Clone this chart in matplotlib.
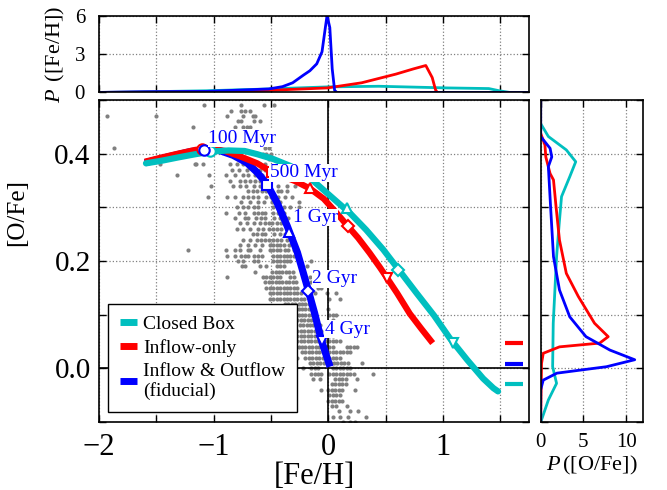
import numpy as np
import matplotlib
matplotlib.use('Agg')
import matplotlib.pyplot as plt
from matplotlib.lines import Line2D

plt.rcParams['font.family'] = ['Liberation Serif', 'DejaVu Serif']
plt.rcParams['mathtext.fontset'] = 'custom'
plt.rcParams['mathtext.rm'] = 'Liberation Serif'
plt.rcParams['mathtext.it'] = 'Liberation Serif:italic'

# ---- model tracks in [Fe/H]-[O/Fe] ----
cb_feh = [-1.59, -1.45, -1.31, -1.16, -1.02, -0.87, -0.73, -0.62, -0.48, -0.33, -0.19, -0.13, 0.04, 0.19,
          0.33, 0.48, 0.62, 0.77, 0.92, 1.06, 1.21, 1.35, 1.44, 1.48]
cb_ofe = [0.382, 0.387, 0.393, 0.399, 0.404, 0.406, 0.405, 0.399, 0.390, 0.377, 0.360, 0.349, 0.317, 0.289,
          0.258, 0.221, 0.182, 0.140, 0.099, 0.056, 0.016, -0.019, -0.037, -0.043]

io_feh = [-1.60, -1.45, -1.31, -1.16, -1.05, -0.90, -0.77, -0.62, -0.51, -0.40, -0.29, -0.16, -0.04, 0.07,
          0.17, 0.26, 0.36, 0.45, 0.51, 0.60, 0.71, 0.81, 0.91]
io_ofe = [0.385, 0.393, 0.400, 0.407, 0.410, 0.405, 0.395, 0.382, 0.368, 0.358, 0.349, 0.335, 0.316, 0.290,
          0.265, 0.243, 0.215, 0.188, 0.169, 0.140, 0.102, 0.074, 0.047]

fid_feh = [-1.60, -1.40, -1.20, -1.08, -0.95, -0.83, -0.71, -0.625, -0.54, -0.45, -0.36, -0.27, -0.19,
           -0.12, -0.06, 0.015]
fid_ofe = [0.383, 0.394, 0.404, 0.407, 0.406, 0.397, 0.383, 0.366, 0.345, 0.310, 0.266, 0.216, 0.157,
           0.103, 0.052, 0.003]

# time stamps: 100 Myr, 500 Myr, 1 Gyr, 2 Gyr, 4 Gyr
stamp_markers = ['o', 's', '^', 'D', 'v']
cb_stamp_feh = [-1.03, -0.22, 0.16, 0.61, 1.09]
cb_stamp_ofe = [0.405, 0.363, 0.298, 0.184, 0.048]
io_stamp_feh = [-1.10, -0.49, -0.16, 0.174, 0.509]
io_stamp_ofe = [0.409, 0.365, 0.336, 0.265, 0.169]
fid_stamp_feh = [-1.084, -0.538, -0.343, -0.175, -0.058]
fid_stamp_ofe = [0.407, 0.342, 0.2535, 0.145, 0.051]
stamp_labels = ['100 Myr', '500 Myr', '1 Gyr', '2 Gyr', '4 Gyr']
stamp_text_x = [-1.05, -0.51, -0.31, -0.14, -0.03]
stamp_text_y = [0.429, 0.364, 0.281, 0.167, 0.073]

# late-time [O/Fe] ticks on the right edge (red, blue, cyan)
eq_ofe = [0.047, 0.008, -0.029]

# ---- metallicity distributions ----
cb_mdf_x = [-2.0, -1.96, -1.57, -1.06, -0.52, -0.01, 0.44, 1.04, 1.40, 1.49, 1.58, 1.75]
cb_mdf_y = [0.0, 0.0, 0.05, 0.13, 0.27, 0.43, 0.48, 0.35, 0.30, 0.13, 0.0, 0.0]
io_mdf_x = [-2.0, -1.5, -1.06, -0.52, -0.01, 0.29, 0.59, 0.74, 0.85, 0.906, 0.935, 0.95, 1.75]
io_mdf_y = [0.0, 0.02, 0.05, 0.16, 0.35, 0.75, 1.43, 1.83, 2.10, 1.16, 0.20, 0.0, 0.0]
fid_mdf_x = [-2.0, -1.6, -1.06, -0.52, -0.40, -0.311, -0.217, -0.161, -0.101, -0.055, -0.026, -0.011,
             0.013, 0.034, 0.055, 0.074, 1.75]
fid_mdf_y = [0.0, 0.05, 0.08, 0.27, 0.45, 0.75, 1.35, 1.69, 2.23, 3.17, 5.06, 6.0,
             5.06, 1.83, 0.16, 0.0, 0.0]

# ---- [O/Fe] distributions ----
cb_odf_y = [0.50, 0.456, 0.432, 0.407, 0.385, 0.357, 0.320, 0.270, 0.208, 0.084, 0.003, -0.028, -0.059, -0.096, -0.10]
cb_odf_p = [0.0, 0.0, 0.9, 3.0, 4.1, 3.4, 2.44, 2.17, 1.86, 1.47, 1.40, 1.86, 0.9, 0.1, 0.0]
io_odf_y = [0.50, 0.438, 0.416, 0.394, 0.363, 0.351, 0.301, 0.239, 0.177, 0.134, 0.084, 0.059, 0.047, 0.040,
            0.028, 0.009, -0.10]
io_odf_p = [0.0, 0.0, 0.5, 0.6, 1.1, 1.5, 1.8, 2.2, 3.0, 4.4, 6.3, 7.9, 6.9, 2.2, 0.3, 0.1, 0.0]
fid_odf_y = [0.50, 0.432, 0.410, 0.394, 0.376, 0.301, 0.208, 0.146, 0.096, 0.059, 0.034, 0.016, 0.003, -0.009,
             -0.022, -0.040, -0.10]
fid_odf_p = [0.0, 0.0, 1.1, 1.3, 0.9, 1.16, 1.5, 2.2, 3.4, 5.3, 8.1, 11.0, 7.7, 1.9, 0.3, 0.0, 0.0]

# ---- observed stars, one row per [O/Fe] value ----
obs_rows = [
    (0.49, [-1.08, -0.76, -0.56, -0.47]),
    (0.48, [-0.85, -0.76, -0.73, -0.68]),
    (0.47, [-1.93, -1.50, -0.88, -0.74, -0.66, -0.64]),
    (0.46, [-0.79, -0.76, -0.65, -0.60]),
    (0.45, [-1.18, -0.81, -0.74, -0.71, -0.68]),
    (0.44, [-0.67, -0.65, -0.59]),
    (0.43, [-0.62, -0.60, -0.58]),
    (0.42, [-0.64, -0.58, -0.55]),
    (0.41, [-1.87, -0.55, -0.52]),
    (0.40, [-0.57, -0.54, -0.50]),
    (0.39, [-0.52, -0.49]),
    (0.38, [-1.47, -1.16, -1.15, -1.09, -0.86, -0.80, -0.74, -0.60, -0.55]),
    (0.37, [-0.84, -0.78, -0.71, -0.60, -0.55, -0.52]),
    (0.36, [-1.32, -1.04, -0.89, -0.81, -0.74, -0.70, -0.64, -0.58, -0.23]),
    (0.35, [-0.86, -0.77, -0.73, -0.68, -0.64, -0.60, -0.56]),
    (0.34, [-1.02, -0.83, -0.77, -0.72, -0.65, -0.60, -0.44, -0.36, -0.29]),
    (0.33, [-0.70, -0.66, -0.62, -0.58, -0.54, -0.44, -0.41, -0.36]),
    (0.32, [-1.05, -0.88, -0.81, -0.74, -0.70, -0.66, -0.61, -0.54, -0.50, -0.44, -0.38, -0.32]),
    (0.31, [-0.76, -0.68, -0.61, -0.56, -0.49, -0.47, -0.42, -0.26]),
    (0.30, [-0.80, -0.74, -0.70, -0.65, -0.61, -0.48, -0.44, -0.39, -0.33, -0.26]),
    (0.29, [-0.89, -0.78, -0.73, -0.65, -0.61, -0.58, -0.55, -0.48, -0.44, -0.39]),
    (0.28, [-0.81, -0.73, -0.70, -0.63, -0.59, -0.55, -0.47, -0.42, -0.39, -0.35]),
    (0.27, [-0.77, -0.71, -0.65, -0.60, -0.55, -0.52, -0.49, -0.45, -0.41, -0.38]),
    (0.26, [-0.80, -0.74, -0.68, -0.61, -0.57, -0.52, -0.48, -0.45, -0.41]),
    (0.25, [-0.66, -0.62, -0.58, -0.55, -0.47, -0.42, -0.38]),
    (0.24, [-0.74, -0.68, -0.62, -0.59, -0.55, -0.52, -0.48, -0.45, -0.41, -0.36]),
    (0.23, [-0.77, -0.70, -0.64, -0.58, -0.51, -0.48, -0.45, -0.42, -0.39, -0.34]),
    (0.22, [-1.22, -0.89, -0.81, -0.77, -0.70, -0.68, -0.60, -0.51, -0.48, -0.45, -0.42, -0.38, -0.35, -0.30]),
    (0.21, [-0.88, -0.81, -0.76, -0.73, -0.70, -0.65, -0.61, -0.58, -0.48, -0.45, -0.42, -0.39, -0.36, -0.33, -0.30]),
    (0.20, [-0.79, -0.74, -0.65, -0.61, -0.48, -0.45, -0.42, -0.39, -0.36, -0.33, -0.15]),
    (0.19, [-0.75, -0.73, -0.60, -0.54, -0.45, -0.42, -0.39, -0.19]),
    (0.18, [-0.64, -0.49, -0.46, -0.43, -0.40, -0.37, -0.34, -0.31]),
    (0.17, [-0.88, -0.57, -0.54, -0.51, -0.48, -0.45, -0.42, -0.33, -0.30, -0.16]),
    (0.16, [-0.55, -0.52, -0.49, -0.46, -0.43, -0.40, -0.37, -0.34, -0.31, -0.28, -0.15, -0.12, -0.09]),
    (0.15, [-0.54, -0.51, -0.48, -0.45, -0.42, -0.39, -0.36, -0.33, -0.30, -0.27, -0.09, -0.06]),
    (0.14, [-0.51, -0.48, -0.45, -0.42, -0.39, -0.36, -0.33, -0.30, -0.27, -0.24, -0.12, -0.01, 0.07]),
    (0.13, [-0.51, -0.48, -0.45, -0.42, -0.39, -0.36, -0.33, -0.30, -0.27, -0.24, -0.21, 0.01, 0.10]),
    (0.12, [-0.38, -0.35, -0.32, -0.29, -0.26, -0.23, -0.20, -0.17]),
    (0.11, [-0.38, -0.35, -0.32, -0.29, -0.26, -0.23, -0.20, -0.17, -0.14, 0.00]),
    (0.10, [-0.35, -0.32, -0.29, -0.26, -0.23, -0.20, -0.17, -0.14, 0.01, 0.04, 0.07]),
    (0.09, [-0.36, -0.33, -0.30, -0.27, -0.24, -0.21, -0.18, -0.15, -0.12, 0.04]),
    (0.08, [-0.38, -0.35, -0.32, -0.25, -0.22, -0.19, -0.16, -0.13, -0.10, -0.07]),
    (0.07, [-0.36, -0.33, -0.30, -0.27, -0.24, -0.21, -0.18, -0.15, -0.12, -0.09, -0.06]),
    (0.06, [-0.33, -0.30, -0.27, -0.24, -0.21, -0.18, -0.15, -0.12, -0.09, -0.06, 0.01, 0.04]),
    (0.05, [-0.30, -0.27, -0.24, -0.21, -0.18, -0.15, -0.12, -0.09, -0.06, -0.03, 0.01, 0.04, 0.07, 0.10]),
    (0.04, [-0.26, -0.23, -0.20, -0.17, -0.14, -0.11, -0.08, -0.05, -0.02, 0.01, 0.04, 0.16, 0.19, 0.22, 0.25]),
    (0.03, [-0.23, -0.20, -0.17, -0.14, -0.11, -0.08, -0.05, -0.02, 0.01, 0.04, 0.07, 0.10, 0.13, 0.16, 0.19]),
    (0.02, [-0.33, -0.30, -0.27, -0.20, -0.17, -0.14, -0.11, -0.08, -0.05, -0.02, 0.01, 0.04, 0.07, 0.10]),
    (0.01, [-0.30, -0.16, -0.13, -0.10, -0.07, -0.04, -0.01, 0.02, 0.05, 0.08, 0.11, 0.14, 0.17, 0.29]),
    (0.00, [-0.33, -0.30, -0.22, -0.15, -0.12, -0.09, 0.04, 0.07, 0.10, 0.13, 0.16, 0.19]),
    (-0.01, [-0.15, -0.12, -0.09, -0.06, 0.01, 0.04, 0.07, 0.10, 0.13, 0.16, 0.19, 0.22, 0.39]),
    (-0.02, [-0.13, -0.07, 0.06, 0.09, 0.12, 0.15, 0.25]),
    (-0.03, [0.03, 0.06, 0.09, 0.12, 0.15]),
    (-0.04, [-0.06, 0.00, 0.03, 0.06, 0.09, 0.12, 0.23]),
    (-0.05, [0.01, 0.04, 0.07, 0.10]),
    (-0.06, [0.00, 0.03, 0.06, 0.09, 0.12]),
    (-0.07, [0.03, 0.07, 0.16]),
    (-0.08, [0.09, 0.19, 0.26]),
    (-0.09, [0.04, 0.10, 0.17, 0.33]),
    (-0.10, [0.13, 0.19, 0.23]),
]

CYAN = '#00bfbf'
RED = 'red'
BLUE = 'blue'

obs_feh = [x for y, xs in obs_rows for x in xs]
obs_ofe = [y for y, xs in obs_rows for x in xs]

fig = plt.figure(figsize=(6.67, 4.9), dpi=100)
ax = fig.add_axes([0.1484, 0.1388, 0.6447, 0.6571])
ax_top = fig.add_axes([0.1484, 0.8114, 0.6447, 0.1569])
ax_right = fig.add_axes([0.8106, 0.1388, 0.1538, 0.6571])

for a in (ax, ax_top, ax_right):
    for s in a.spines.values():
        s.set_linewidth(1.2)
    a.tick_params(direction='in', top=True, right=True, length=5, width=1)
    a.grid(True, ls=':', color='0.5', lw=0.9)
    a.set_axisbelow(True)

# main panel
ax.scatter(obs_feh, obs_ofe, s=9, color='0.5', lw=0, zorder=1)
ax.axvline(0, color='k', lw=1.2, zorder=1.5)
ax.axhline(0, color='k', lw=1.2, zorder=1.5)

ax.plot(fid_feh, fid_ofe, color=BLUE, lw=5.2, solid_capstyle='butt', solid_joinstyle='round', zorder=2)
ax.plot(io_feh, io_ofe, color=RED, lw=4.5, solid_capstyle='butt', solid_joinstyle='round', zorder=2.1)
ax.plot(cb_feh, cb_ofe, color=CYAN, lw=4.5, solid_capstyle='round', solid_joinstyle='round', zorder=2.2)

for xs, ys, c in [(io_stamp_feh, io_stamp_ofe, RED), (cb_stamp_feh, cb_stamp_ofe, CYAN),
                  (fid_stamp_feh, fid_stamp_ofe, BLUE)]:
    for x, y, m in zip(xs, ys, stamp_markers):
        ms = 6 if m == 'D' else 7.5
        ax.plot([x], [y], marker=m, ms=ms, mfc='white', mec=c, mew=1.5, zorder=3)

for t, x, y in zip(stamp_labels, stamp_text_x, stamp_text_y):
    ax.text(x, y, t, color=BLUE, fontsize=14, ha='left', va='center', zorder=4,
            bbox=dict(facecolor='white', edgecolor='none', pad=0.3))

for y, c in zip(eq_ofe, [RED, BLUE, CYAN]):
    ax.plot([1.54, 1.70], [y, y], color=c, lw=3, solid_capstyle='butt', zorder=2)

ax.set_xlim(-2, 1.75)
ax.set_ylim(-0.1, 0.5)
ax.set_xticks([-2, -1.5, -1, -0.5, 0, 0.5, 1, 1.5])
ax.set_xticklabels(['\u22122', '', '\u22121', '', '0', '', '1', ''])
ax.set_yticks([-0.1, 0.0, 0.1, 0.2, 0.3, 0.4, 0.5])
ax.set_yticklabels(['', '0.0', '', '0.2', '', '0.4', ''])
ax.tick_params(axis='x', labelsize=22, pad=8)
ax.tick_params(axis='y', labelsize=21, pad=6)
ax.set_xlabel('[Fe/H]', fontsize=22, labelpad=0)
ax.set_ylabel('[O/Fe]', fontsize=18)
ax.yaxis.set_label_coords(-0.165, 0.65)

handles = [Line2D([], [], color=CYAN, lw=5, solid_capstyle='butt'),
           Line2D([], [], color=RED, lw=5, solid_capstyle='butt'),
           Line2D([], [], color=BLUE, lw=5, solid_capstyle='butt')]
leg = ax.legend(handles, ['Closed Box', 'Inflow-only', 'Inflow & Outflow\n(fiducial)'],
                loc='lower left', bbox_to_anchor=(0.021, 0.031), borderaxespad=0,
                fontsize=14, handlelength=0.9, handletextpad=0.3, labelspacing=0.3,
                borderpad=0.6, fancybox=False, framealpha=1, edgecolor='k')
leg.get_frame().set_linewidth(1.0)
leg.set_zorder(5)

# top panel
ax_top.plot(cb_mdf_x, cb_mdf_y, color=CYAN, lw=2)
ax_top.plot(io_mdf_x, io_mdf_y, color=RED, lw=2)
ax_top.plot(fid_mdf_x, fid_mdf_y, color=BLUE, lw=2)
ax_top.set_xlim(-2, 1.75)
ax_top.set_ylim(0, 6)
ax_top.set_xticks([-2, -1.5, -1, -0.5, 0, 0.5, 1, 1.5])
ax_top.set_xticklabels([])
ax_top.set_yticks([0, 3, 6])
ax_top.tick_params(axis='y', labelsize=15, pad=10)
ax_top.set_ylabel(r'$P\,$ ([Fe/H])', fontsize=16)
ax_top.yaxis.set_label_coords(-0.075, 0.5)

# right panel
ax_right.plot(cb_odf_p, cb_odf_y, color=CYAN, lw=2)
ax_right.plot(io_odf_p, io_odf_y, color=RED, lw=2)
ax_right.plot(fid_odf_p, fid_odf_y, color=BLUE, lw=2)
ax_right.set_xlim(0, 12)
ax_right.set_ylim(-0.1, 0.5)
ax_right.set_xticks([0, 5, 10])
ax_right.set_yticks([-0.1, 0.0, 0.1, 0.2, 0.3, 0.4, 0.5])
ax_right.set_yticklabels([])
ax_right.tick_params(axis='x', labelsize=15, pad=8)
ax_right.set_xlabel(r'$P\,$([O/Fe])', fontsize=16, labelpad=1)

fig.savefig('out.png', dpi=100)
